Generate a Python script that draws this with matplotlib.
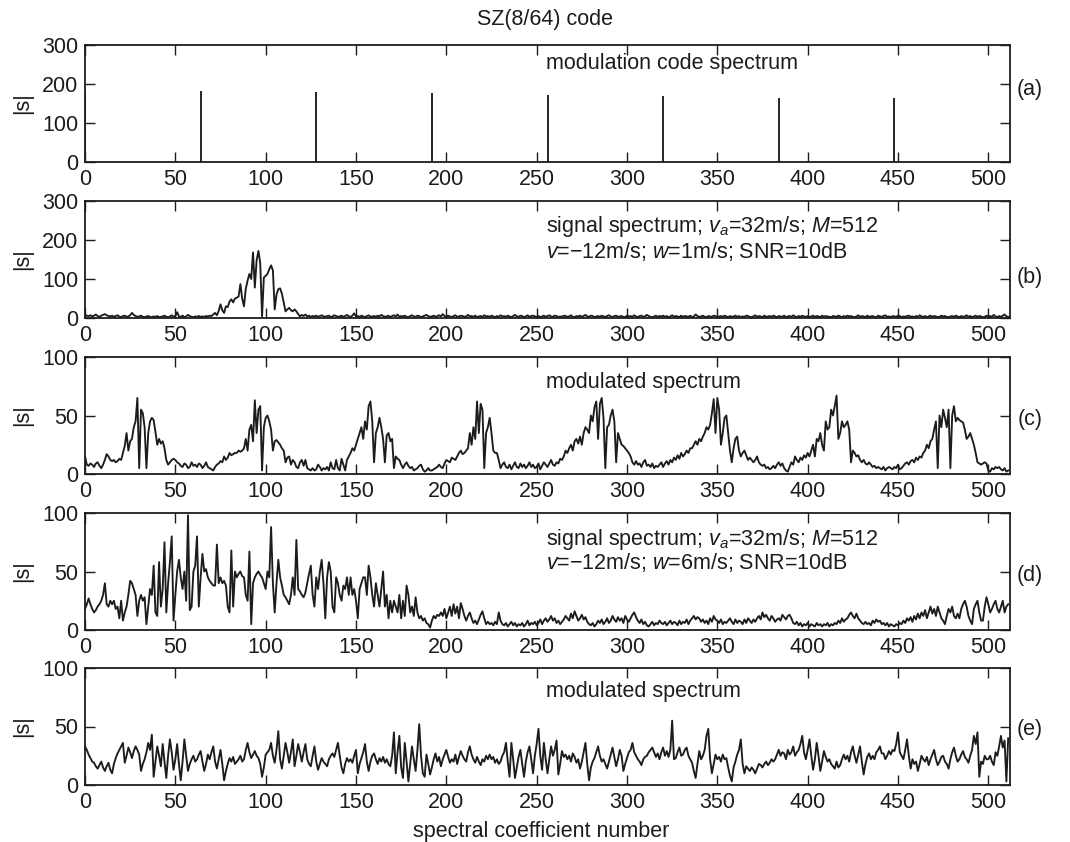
import numpy as np
import matplotlib

matplotlib.use("Agg")
import matplotlib.pyplot as plt

plt.rcParams["font.family"] = ["Liberation Sans", "DejaVu Sans"]
plt.rcParams["mathtext.fontset"] = "custom"
plt.rcParams["mathtext.rm"] = "Liberation Sans"
plt.rcParams["mathtext.it"] = "Liberation Sans:italic"

# (a) SZ(8/64) code spectrum: 8 lines spaced by 64 coefficients
code_bins = [0, 64, 128, 192, 256, 320, 384, 448]
code_mag = [185, 182, 180, 176, 172, 170, 165, 164]

# (b) signal spectrum, w = 1 m/s
sig_w1 = [
    8, 6, 5, 7, 4, 6, 9, 5, 3, 6, 8, 10, 7, 5, 4, 6, 3, 5, 7, 4, 2, 5, 6, 3, 4, 7, 13, 8, 5, 3, 4, 6,
    3, 2, 4, 5, 3, 2, 4, 3, 5, 2, 3, 4, 6, 3, 2, 4, 7, 3, 5, 15, 4, 3, 6, 2, 4, 8, 5, 3, 2, 4, 3, 5,
    3, 4, 3, 5, 4, 6, 5, 9, 13, 7, 18, 35, 20, 13, 30, 28, 42, 48, 40, 50, 52, 55, 87, 50, 30, 75, 96, 113, 100, 168, 78, 148,
    172, 140, 4, 104, 108, 113, 125, 135, 122, 22, 60, 74, 76, 62, 40, 17, 22, 26, 20, 17, 22, 17, 10, 4, 8, 5, 9, 4, 6, 3, 5, 4,
    6, 3, 5, 7, 4, 3, 5, 6, 2, 4, 7, 5, 3, 4, 6, 3, 5, 8, 4, 3, 6, 12, 4, 5, 3, 6, 4, 2, 5, 7, 3, 4,
    5, 3, 6, 4, 8, 5, 3, 4, 6, 2, 5, 7, 4, 9, 3, 5, 4, 6, 3, 2, 5, 7, 4, 3, 6, 5, 2, 4, 6, 8, 5, 3,
    4, 6, 3, 5, 7, 4, 10, 5, 3, 6, 4, 2, 5, 7, 3, 4, 6, 5, 3, 4, 8, 4, 5, 3, 6, 2, 4, 5, 3, 7, 4, 5,
    3, 6, 4, 2, 5, 3, 7, 4, 5, 3, 6, 4, 2, 5, 8, 4, 3, 6, 5, 2, 4, 7, 3, 5, 6, 4, 3, 5, 2, 4, 6, 3,
    5, 7, 4, 3, 6, 5, 2, 4, 3, 6, 5, 3, 4, 7, 3, 2, 5, 4, 6, 3, 5, 8, 4, 3, 6, 5, 2, 4, 5, 3, 6, 4,
    3, 5, 7, 4, 2, 5, 6, 3, 4, 5, 3, 2, 6, 4, 5, 3, 7, 4, 2, 5, 6, 3, 4, 8, 5, 3, 2, 4, 6, 3, 5, 4,
    6, 3, 5, 2, 4, 7, 3, 5, 4, 2, 6, 3, 5, 4, 3, 6, 2, 4, 9, 5, 3, 4, 6, 3, 2, 5, 4, 3, 6, 5, 2, 4,
    5, 3, 6, 4, 2, 5, 3, 4, 6, 3, 5, 2, 4, 3, 6, 5, 3, 2, 4, 7, 3, 5, 4, 2, 6, 3, 4, 5, 3, 6, 4, 2,
    5, 4, 3, 6, 2, 4, 5, 3, 7, 4, 2, 5, 3, 6, 4, 3, 5, 2, 4, 6, 3, 5, 4, 2, 6, 3, 5, 4, 3, 2, 5, 4,
    3, 6, 4, 2, 5, 3, 6, 4, 5, 3, 2, 4, 7, 3, 5, 4, 2, 6, 3, 4, 5, 3, 2, 6, 4, 3, 5, 7, 3, 4, 2, 5,
    4, 3, 6, 5, 2, 4, 3, 5, 6, 3, 4, 2, 5, 3, 7, 4, 3, 5, 2, 4, 6, 3, 5, 4, 2, 3, 6, 4, 5, 3, 2, 4,
    5, 3, 6, 4, 2, 5, 3, 4, 7, 3, 5, 2, 4, 6, 3, 5, 4, 2, 3, 6, 4, 5, 3, 8, 4, 2, 5, 3, 6, 9, 4, 3,
]

# (c) modulated spectrum, w = 1 m/s
mod_w1 = [
    15, 8, 7, 9, 8, 6, 9, 10, 7, 5, 8, 12, 17, 15, 12, 11, 12, 10, 11, 13, 12, 18, 24, 35, 20, 28, 30, 40, 45, 65, 5, 55,
    52, 40, 5, 35, 45, 48, 46, 36, 25, 30, 26, 28, 22, 12, 8, 10, 12, 13, 12, 10, 9, 7, 6, 9, 8, 5, 6, 10, 7, 8, 6, 9,
    8, 5, 7, 10, 6, 5, 4, 3, 6, 8, 9, 11, 10, 15, 12, 14, 18, 16, 17, 18, 18, 20, 19, 20, 22, 30, 20, 38, 42, 28, 63, 35,
    55, 58, 3, 40, 48, 50, 45, 38, 20, 28, 29, 27, 25, 22, 20, 10, 14, 15, 8, 12, 10, 6, 5, 10, 12, 7, 12, 5, 4, 3, 5, 3,
    4, 8, 6, 3, 5, 4, 6, 3, 10, 5, 4, 12, 5, 3, 13, 8, 3, 12, 15, 18, 22, 20, 25, 30, 35, 40, 30, 45, 38, 58, 62, 45,
    10, 35, 40, 48, 40, 30, 10, 33, 35, 28, 30, 5, 15, 13, 12, 8, 5, 8, 10, 7, 5, 6, 3, 4, 5, 7, 8, 4, 2, 3, 5, 3,
    3, 4, 5, 6, 8, 6, 5, 9, 12, 11, 10, 14, 13, 12, 15, 18, 20, 17, 18, 20, 22, 35, 25, 40, 30, 62, 35, 60, 55, 5, 35, 40,
    48, 35, 20, 18, 18, 12, 5, 8, 10, 6, 5, 8, 4, 7, 10, 6, 5, 9, 6, 8, 5, 7, 10, 6, 8, 5, 6, 9, 4, 7, 10, 8,
    6, 9, 12, 8, 7, 10, 9, 13, 12, 15, 20, 18, 22, 25, 20, 28, 30, 26, 32, 25, 35, 40, 38, 35, 50, 45, 57, 62, 30, 60, 65, 48,
    5, 40, 42, 50, 55, 45, 10, 35, 30, 25, 24, 22, 20, 18, 15, 10, 8, 11, 8, 9, 6, 10, 12, 7, 8, 6, 9, 5, 7, 6, 8, 10,
    6, 9, 11, 8, 12, 10, 14, 12, 16, 13, 18, 15, 17, 20, 18, 22, 22, 25, 28, 25, 30, 28, 32, 35, 40, 38, 42, 52, 64, 35, 65, 55,
    25, 35, 48, 50, 35, 20, 10, 22, 30, 32, 20, 15, 18, 20, 16, 12, 14, 12, 10, 12, 15, 10, 8, 7, 8, 5, 6, 4, 5, 7, 5, 8,
    10, 7, 9, 5, 3, 2, 6, 10, 8, 15, 12, 10, 14, 12, 16, 14, 18, 15, 20, 25, 15, 30, 28, 35, 25, 20, 45, 38, 40, 55, 50, 58,
    67, 30, 35, 45, 40, 42, 45, 38, 10, 20, 18, 15, 16, 12, 10, 12, 9, 8, 10, 8, 6, 7, 5, 6, 5, 4, 6, 3, 5, 6, 5, 4,
    6, 5, 8, 4, 5, 7, 9, 10, 8, 11, 12, 10, 14, 12, 15, 14, 18, 20, 25, 22, 28, 30, 38, 45, 5, 50, 40, 55, 48, 40, 55, 5,
    50, 58, 45, 48, 46, 45, 44, 38, 30, 32, 35, 30, 25, 18, 10, 9, 8, 9, 10, 9, 3, 2, 5, 4, 6, 5, 6, 4, 3, 5, 2, 3,
]

# (d) signal spectrum, w = 6 m/s
sig_w6 = [
    18, 22, 27, 22, 18, 15, 17, 20, 22, 25, 30, 40, 22, 20, 25, 22, 25, 18, 20, 10, 25, 8, 15, 20, 30, 42, 40, 35, 30, 12, 25, 30,
    25, 28, 5, 20, 35, 30, 55, 15, 12, 58, 20, 35, 75, 15, 40, 58, 80, 8, 30, 50, 60, 45, 35, 50, 25, 98, 17, 20, 50, 55, 80, 20,
    45, 65, 50, 52, 45, 42, 40, 38, 38, 73, 40, 45, 40, 42, 38, 20, 15, 68, 20, 50, 45, 48, 50, 46, 45, 30, 25, 67, 5, 40, 45, 48,
    50, 47, 45, 40, 35, 50, 45, 88, 40, 15, 40, 60, 45, 38, 30, 28, 25, 22, 30, 45, 30, 77, 35, 33, 30, 28, 32, 40, 48, 55, 30, 20,
    45, 35, 50, 60, 40, 10, 45, 58, 50, 20, 15, 45, 40, 30, 25, 38, 35, 45, 30, 45, 30, 35, 25, 10, 35, 40, 45, 45, 30, 55, 45, 30,
    20, 40, 30, 20, 35, 50, 20, 30, 10, 25, 15, 25, 20, 15, 30, 10, 25, 12, 38, 30, 15, 20, 12, 28, 15, 10, 12, 8, 10, 6, 5, 2,
    8, 12, 10, 13, 12, 15, 12, 18, 10, 15, 20, 12, 22, 14, 20, 10, 23, 18, 12, 8, 12, 15, 10, 6, 8, 5, 9, 13, 16, 10, 5, 7,
    5, 6, 4, 7, 5, 15, 8, 5, 4, 6, 3, 5, 7, 4, 6, 3, 5, 4, 6, 3, 5, 8, 4, 6, 5, 7, 4, 6, 9, 5, 8, 10,
    7, 9, 12, 8, 10, 6, 8, 5, 7, 9, 12, 10, 8, 14, 10, 16, 12, 8, 10, 13, 9, 11, 7, 5, 4, 6, 3, 5, 8, 6, 9, 5,
    7, 10, 6, 8, 12, 9, 7, 11, 8, 10, 6, 12, 9, 7, 10, 13, 15, 11, 8, 6, 9, 5, 7, 4, 3, 5, 7, 4, 6, 5, 8, 6,
    5, 7, 4, 6, 8, 5, 7, 6, 4, 8, 5, 7, 6, 9, 5, 8, 10, 12, 9, 11, 10, 7, 9, 6, 8, 5, 10, 7, 12, 9, 8, 6,
    9, 5, 7, 6, 8, 10, 7, 5, 9, 6, 8, 7, 5, 9, 6, 10, 8, 6, 9, 7, 10, 12, 9, 15, 11, 13, 10, 8, 12, 10, 7, 9,
    10, 8, 13, 11, 9, 12, 13, 10, 6, 5, 7, 4, 6, 3, 5, 4, 6, 3, 5, 4, 3, 6, 4, 5, 3, 5, 4, 6, 3, 5, 4, 6,
    5, 8, 6, 10, 7, 9, 10, 13, 15, 12, 10, 14, 10, 8, 6, 5, 7, 5, 6, 4, 8, 6, 9, 7, 8, 5, 6, 4, 6, 3, 5, 4,
    3, 5, 4, 6, 5, 8, 6, 10, 8, 11, 7, 12, 9, 14, 10, 15, 12, 17, 10, 15, 20, 14, 18, 12, 20, 15, 10, 8, 5, 12, 18, 15,
    20, 12, 10, 14, 10, 18, 22, 25, 20, 12, 8, 5, 18, 22, 25, 15, 8, 8, 20, 28, 22, 15, 18, 22, 25, 18, 15, 20, 25, 15, 20, 22,
]

# (e) modulated spectrum, w = 6 m/s
mod_w6 = [
    33, 30, 26, 23, 20, 19, 16, 14, 17, 20, 15, 12, 16, 19, 13, 10, 18, 23, 27, 30, 33, 36, 19, 25, 32, 28, 23, 29, 33, 30, 26, 12,
    18, 22, 28, 36, 30, 43, 7, 20, 33, 25, 16, 35, 20, 6, 25, 39, 28, 13, 22, 35, 18, 4, 20, 39, 25, 12, 18, 22, 25, 20, 22, 26,
    29, 20, 12, 18, 26, 22, 28, 33, 20, 14, 22, 30, 18, 4, 12, 18, 23, 20, 24, 18, 20, 22, 25, 20, 22, 30, 36, 28, 23, 26, 29, 25,
    23, 18, 7, 15, 26, 28, 30, 36, 25, 19, 30, 46, 22, 14, 25, 36, 28, 19, 28, 39, 16, 25, 35, 28, 20, 28, 35, 22, 18, 16, 25, 33,
    20, 13, 18, 23, 20, 18, 16, 22, 25, 27, 24, 30, 36, 25, 15, 10, 18, 23, 20, 22, 19, 25, 30, 10, 18, 23, 28, 35, 20, 12, 20, 25,
    27, 22, 18, 23, 20, 24, 19, 22, 18, 16, 25, 45, 10, 28, 42, 15, 6, 36, 20, 3, 18, 33, 22, 12, 30, 52, 25, 10, 7, 26, 18, 9,
    15, 22, 27, 20, 24, 16, 22, 26, 30, 24, 19, 22, 20, 26, 18, 24, 29, 25, 22, 20, 28, 33, 26, 22, 19, 24, 20, 17, 22, 20, 25, 22,
    26, 22, 24, 19, 22, 18, 20, 25, 28, 36, 20, 7, 36, 22, 6, 15, 24, 30, 18, 7, 20, 28, 33, 22, 10, 25, 35, 48, 25, 13, 36, 22,
    10, 22, 33, 25, 30, 38, 9, 18, 29, 24, 26, 22, 25, 20, 27, 24, 19, 22, 14, 20, 28, 36, 18, 4, 15, 20, 23, 28, 33, 25, 20, 22,
    18, 14, 20, 26, 32, 24, 16, 22, 30, 25, 12, 18, 23, 28, 30, 36, 28, 25, 22, 20, 17, 22, 24, 25, 28, 30, 32, 28, 24, 27, 22, 28,
    32, 25, 29, 24, 30, 55, 22, 23, 28, 32, 25, 26, 30, 32, 25, 22, 19, 12, 6, 18, 29, 22, 25, 30, 42, 48, 22, 10, 18, 26, 22, 24,
    20, 26, 22, 23, 15, 8, 3, 15, 20, 26, 30, 39, 18, 10, 16, 14, 12, 15, 13, 10, 14, 18, 17, 15, 18, 20, 17, 19, 22, 20, 22, 26,
    30, 25, 28, 27, 22, 30, 26, 28, 33, 25, 28, 30, 35, 42, 28, 22, 30, 39, 25, 13, 22, 36, 25, 12, 20, 29, 24, 20, 22, 18, 16, 14,
    20, 15, 17, 22, 26, 22, 25, 20, 28, 33, 25, 19, 26, 33, 20, 9, 18, 24, 27, 22, 25, 22, 28, 30, 33, 27, 27, 22, 25, 29, 26, 30,
    29, 35, 45, 28, 25, 22, 30, 39, 25, 14, 22, 18, 20, 12, 18, 25, 22, 20, 24, 17, 22, 26, 30, 22, 17, 20, 24, 25, 20, 18, 14, 22,
    28, 32, 25, 20, 22, 26, 29, 24, 22, 19, 25, 30, 42, 35, 45, 7, 20, 18, 25, 22, 22, 25, 20, 17, 28, 25, 33, 42, 32, 38, 3, 40,
]

x_ticks = list(range(0, 501, 50))
panel_tags = ["(a)", "(b)", "(c)", "(d)", "(e)"]

W, H = 1070, 842
FS = 15.5
INK = "#1c1c1c"

fig = plt.figure(figsize=(W / 100, H / 100), dpi=100)

left_px, right_px, ax_h = 85, 1010, 117
tops = [45, 201, 357, 513, 668]
axes = []
for top in tops:
    ax = fig.add_axes([left_px / W, 1 - (top + ax_h) / H, (right_px - left_px) / W, ax_h / H])
    ax.set_xlim(0, 512)
    ax.set_xticks(x_ticks)
    ax.tick_params(direction="in", top=True, right=True, length=7, width=1,
                   labelsize=FS, pad=5, colors=INK)
    for sp in ax.spines.values():
        sp.set_linewidth(1.3)
        sp.set_color(INK)
    ax.set_ylabel("|s|", fontsize=FS, color=INK)
    ax.yaxis.set_label_coords(-0.056, 0.5)
    axes.append(ax)

line_kw = dict(color=INK, lw=1.35)

# (a)
ax = axes[0]
ax.vlines(code_bins, 0, code_mag, **line_kw)
ax.set_ylim(0, 300)
ax.set_yticks([0, 100, 200, 300])
ax.text(255, 0.846, "modulation code spectrum", transform=ax.get_xaxis_transform(),
        fontsize=FS, va="center", color=INK)

# (b)
ax = axes[1]
ax.plot(np.arange(len(sig_w1)), sig_w1, **line_kw)
ax.set_ylim(0, 300)
ax.set_yticks([0, 100, 200, 300])
ax.text(255, 0.78, r"signal spectrum; $v_a$=32m/s; $M$=512", transform=ax.get_xaxis_transform(),
        fontsize=FS, va="center", color=INK)
ax.text(255, 0.567, r"$v$=−12m/s; $w$=1m/s; SNR=10dB", transform=ax.get_xaxis_transform(),
        fontsize=FS, va="center", color=INK)

# (c)
ax = axes[2]
ax.plot(np.arange(len(mod_w1)), mod_w1, **line_kw)
ax.set_ylim(0, 100)
ax.set_yticks([0, 50, 100])
ax.text(255, 0.78, "modulated spectrum", transform=ax.get_xaxis_transform(),
        fontsize=FS, va="center", color=INK)

# (d)
ax = axes[3]
ax.plot(np.arange(len(sig_w6)), sig_w6, **line_kw)
ax.set_ylim(0, 100)
ax.set_yticks([0, 50, 100])
ax.text(255, 0.77, r"signal spectrum; $v_a$=32m/s; $M$=512", transform=ax.get_xaxis_transform(),
        fontsize=FS, va="center", color=INK)
ax.text(255, 0.573, r"$v$=−12m/s; $w$=6m/s; SNR=10dB", transform=ax.get_xaxis_transform(),
        fontsize=FS, va="center", color=INK)

# (e)
ax = axes[4]
ax.plot(np.arange(len(mod_w6)), mod_w6, **line_kw)
ax.set_ylim(0, 100)
ax.set_yticks([0, 50, 100])
ax.text(255, 0.795, "modulated spectrum", transform=ax.get_xaxis_transform(),
        fontsize=FS, va="center", color=INK)

for tag, y_px in zip(panel_tags, [90, 277, 420, 575, 730]):
    fig.text(1030 / W, 1 - y_px / H, tag, ha="center", va="center", fontsize=FS, color=INK)

fig.text(545 / W, 1 - 20 / H, "SZ(8/64) code", ha="center", va="center", fontsize=FS, color=INK)
fig.text(541 / W, 1 - 831 / H, "spectral coefficient number", ha="center", va="center",
         fontsize=FS, color=INK)

fig.savefig("out.png", dpi=100)
